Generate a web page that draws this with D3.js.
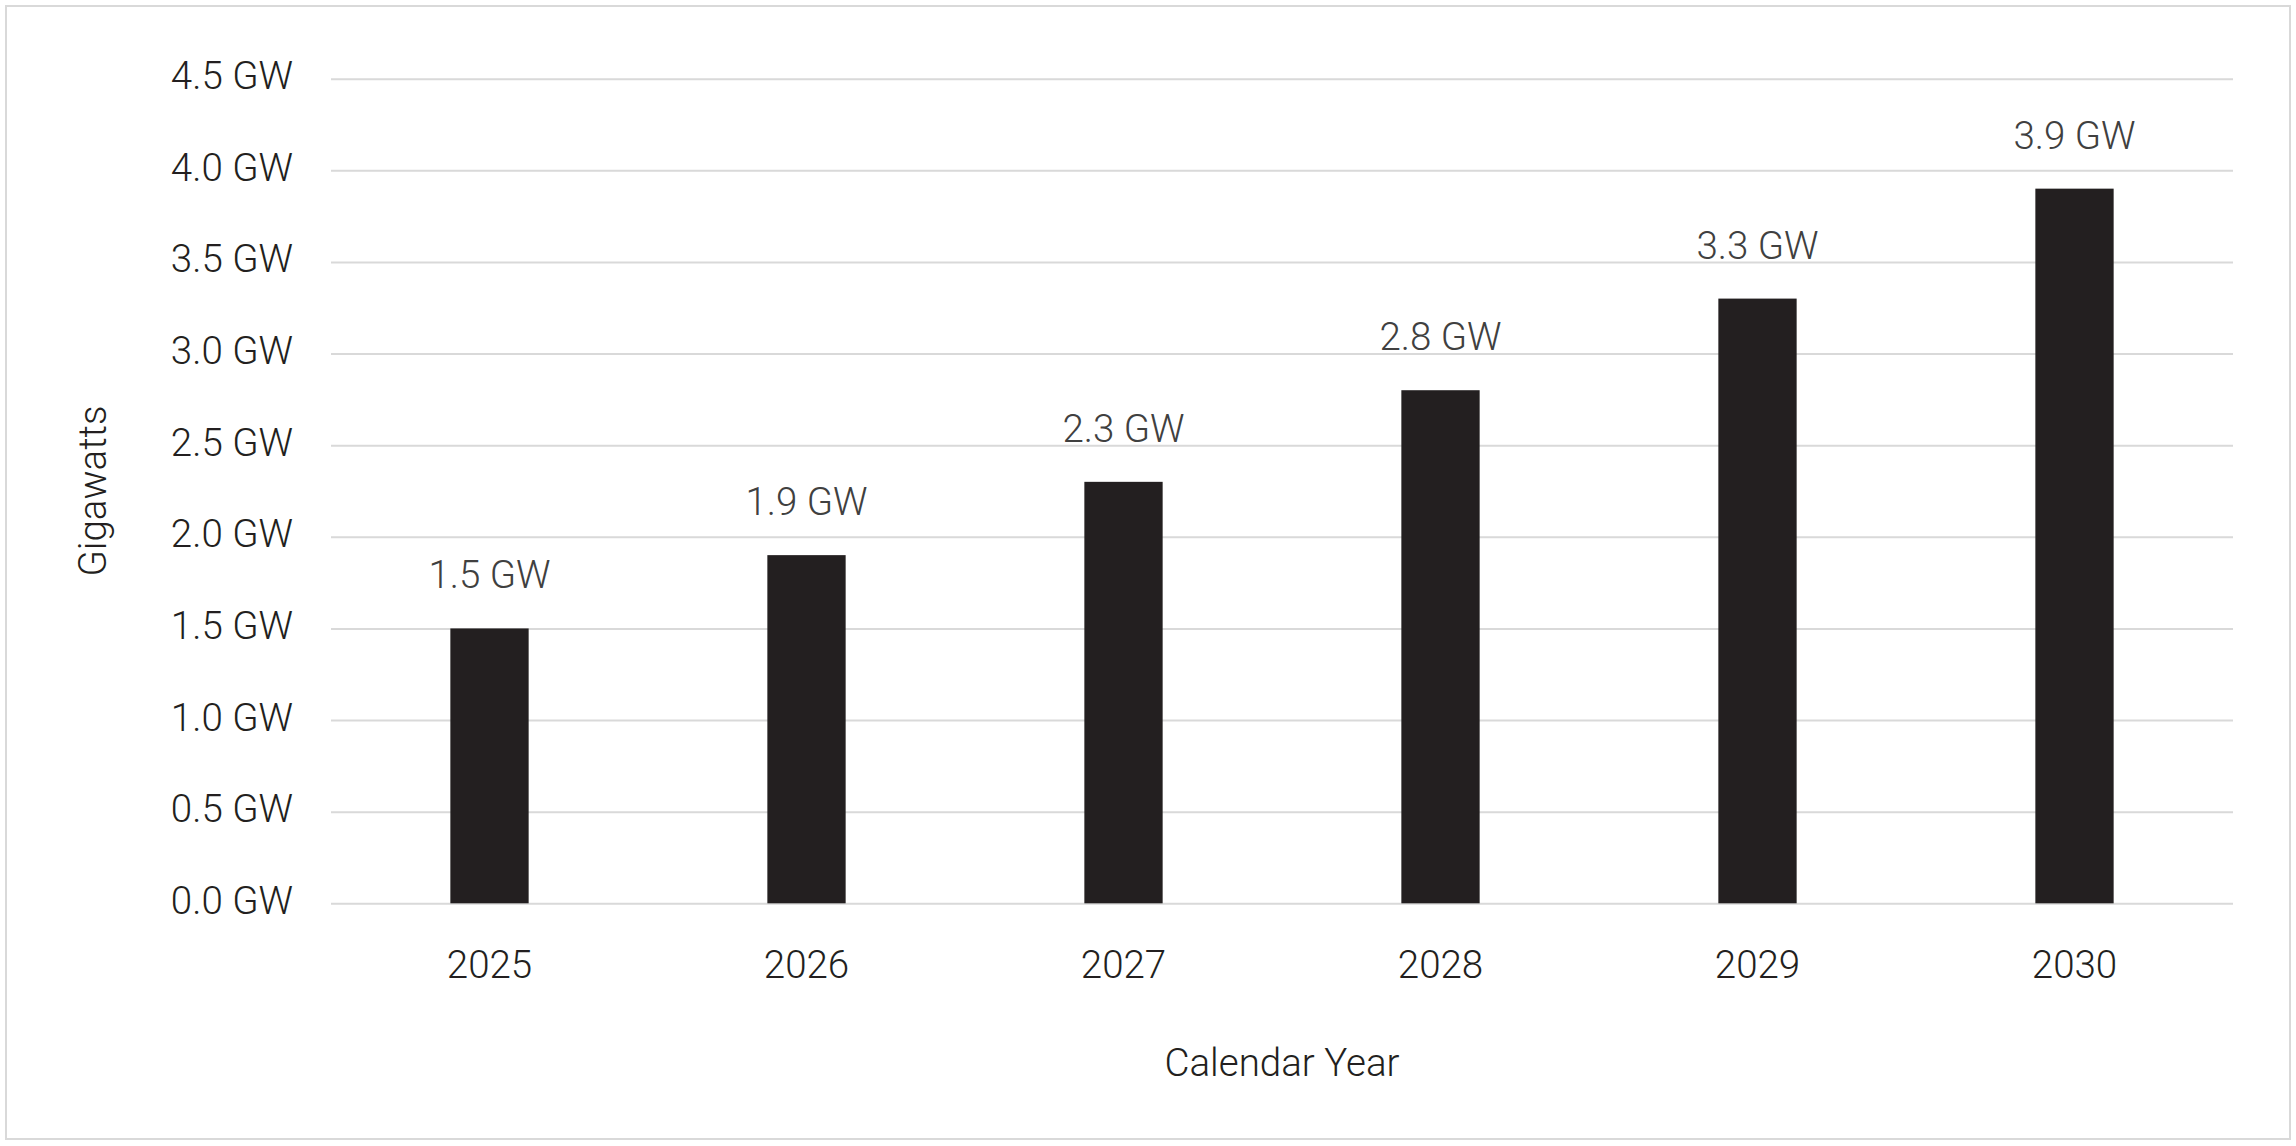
<!DOCTYPE html>
<html>
<head>
<meta charset="utf-8">
<script src="https://cdn.jsdelivr.net/npm/d3@7"></script>
<style>
  body { margin: 0; background: #fff; }
  text { font-family: Roboto, "Open Sans", sans-serif; font-weight: 300; fill: #231f20; }
</style>
</head>
<body>
<script>
// data
let years = ["2025", "2026", "2027", "2028", "2029", "2030"];
let gigawatts = [1.5, 1.9, 2.3, 2.8, 3.3, 3.9];
let yTicks = [0, 0.5, 1.0, 1.5, 2.0, 2.5, 3.0, 3.5, 4.0, 4.5];

let width = 2296, height = 1146;
let margin = {top: 78.7, right: 63, bottom: 242.7, left: 331};
let innerW = width - margin.left - margin.right;
let innerH = height - margin.top - margin.bottom;
let fs = 38.5;

let svg = d3.select("body")
  .append("svg")
  .attr("width", width)
  .attr("height", height);

// outer frame
svg.append("rect")
  .attr("x", 6).attr("y", 6)
  .attr("width", 2284).attr("height", 1133)
  .attr("fill", "none")
  .attr("stroke", "#d9d9d9")
  .attr("stroke-width", 2);

let g = svg.append("g")
  .attr("transform", "translate(" + margin.left + "," + margin.top + ")");

let x = d3.scaleBand()
  .domain(years)
  .range([0, innerW])
  .padding(0);

let y = d3.scaleLinear()
  .domain([0, 4.5])
  .range([innerH, 0]);

// y axis + gridlines
let yAxis = d3.axisLeft(y)
  .tickValues(yTicks)
  .tickSize(-innerW)
  .tickPadding(38)
  .tickFormat(d => d3.format(".1f")(d) + " GW");

g.append("g")
  .attr("class", "y-axis")
  .call(yAxis)
  .call(a => a.select(".domain").remove())
  .call(a => a.selectAll("line").attr("stroke", "#d9d9d9").attr("stroke-width", 2))
  .call(a => a.selectAll("text").attr("font-size", fs).attr("dy", "0.26em"));

// x axis
g.append("g")
  .attr("transform", "translate(0," + innerH + ")")
  .call(d3.axisBottom(x).tickSize(0).tickPadding(47))
  .call(a => a.select(".domain").remove())
  .call(a => a.selectAll("text").attr("font-size", fs));

let barW = x.bandwidth() * 0.247;

// bars
g.selectAll("rect.bar")
  .data(years)
  .enter()
  .append("rect")
    .attr("class", "bar")
    .attr("x", (d, i) => x(d) + x.bandwidth() / 2 - barW / 2)
    .attr("y", (d, i) => y(gigawatts[i]))
    .attr("width", barW)
    .attr("height", (d, i) => innerH - y(gigawatts[i]))
    .attr("fill", "#231f20");

// value labels (lighter grey than the axis text)
g.selectAll("text.val")
  .data(years)
  .enter()
  .append("text")
    .attr("class", "val")
    .attr("x", d => x(d) + x.bandwidth() / 2)
    .attr("y", (d, i) => y(gigawatts[i]) - 40)
    .attr("text-anchor", "middle")
    .attr("font-size", fs)
    .style("fill", "#404040")
    .text((d, i) => d3.format(".1f")(gigawatts[i]) + " GW");

// axis titles
svg.append("text")
  .attr("x", margin.left + innerW / 2)
  .attr("y", 1076)
  .attr("text-anchor", "middle")
  .attr("font-size", fs)
  .text("Calendar Year");

svg.append("text")
  .attr("transform", "translate(106," + (margin.top + innerH / 2) + ") rotate(-90)")
  .attr("text-anchor", "middle")
  .attr("font-size", fs)
  .text("Gigawatts");
</script>
</body>
</html>
